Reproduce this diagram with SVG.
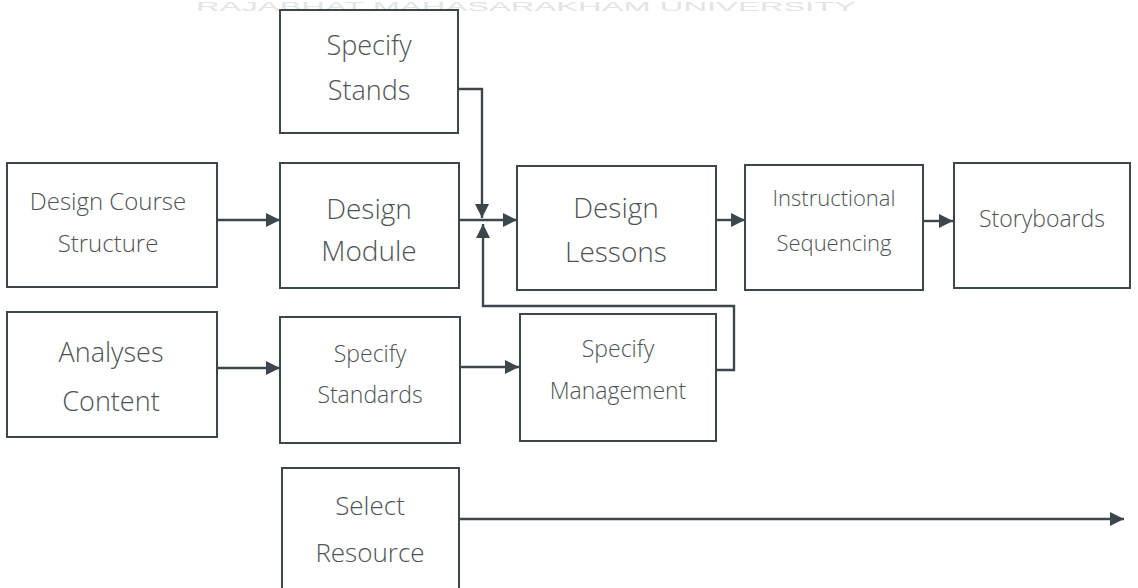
<svg xmlns="http://www.w3.org/2000/svg" width="1138" height="588" viewBox="0 0 1138 588">
<style>
  .box { fill: #ffffff; stroke: #3c474c; stroke-width: 2; }
  .t { font-family: "Open Sans", "Noto Sans", "Liberation Sans", sans-serif; fill: #4e5356; text-anchor: middle; font-weight: 300; }
  .c { fill: none; stroke: #3c474c; stroke-width: 2.4; }
  .wm { font-family: "Liberation Sans", "Open Sans", sans-serif; fill: #e4e4e4; font-size: 13px; }
</style>
<defs>
  <marker id="ah" viewBox="0 0 10 10" refX="10" refY="5" markerWidth="16" markerHeight="14" markerUnits="userSpaceOnUse" orient="auto">
    <path d="M0,0 L10,5 L0,10 z" fill="#3c474c"/>
  </marker>
</defs>
<rect x="0" y="0" width="1138" height="588" fill="#ffffff"/>
<text class="wm" x="196" y="11" textLength="660" lengthAdjust="spacingAndGlyphs">RAJABHAT MAHASARAKHAM UNIVERSITY</text>

<g id="connectors">
  <path class="c" d="M217,220 H280" marker-end="url(#ah)"/>
  <path class="c" d="M458,89 H482 V218" marker-end="url(#ah)"/>
  <path class="c" d="M459,220 H517" marker-end="url(#ah)"/>
  <path class="c" d="M716,370 H734 V306 H483 V224" marker-end="url(#ah)"/>
  <path class="c" d="M716,220 H745" marker-end="url(#ah)"/>
  <path class="c" d="M923,221 H953" marker-end="url(#ah)"/>
  <path class="c" d="M217,368 H280" marker-end="url(#ah)"/>
  <path class="c" d="M460,367 H519" marker-end="url(#ah)"/>
  <path class="c" d="M459,519 H1124" marker-end="url(#ah)"/>
</g>

<g id="specify-stands">
  <rect class="box" x="280" y="10" width="178" height="123"/>
  <text class="t" x="369" y="55" font-size="27">Specify</text>
  <text class="t" x="369" y="100" font-size="27">Stands</text>
</g>
<g id="design-course-structure">
  <rect class="box" x="7" y="163" width="210" height="124"/>
  <text class="t" x="108" y="210" font-size="24">Design Course</text>
  <text class="t" x="108" y="252" font-size="24">Structure</text>
</g>
<g id="design-module">
  <rect class="box" x="280" y="163" width="179" height="125"/>
  <text class="t" x="369" y="219" font-size="28">Design</text>
  <text class="t" x="369" y="261" font-size="28">Module</text>
</g>
<g id="design-lessons">
  <rect class="box" x="517" y="166" width="199" height="124"/>
  <text class="t" x="616" y="218" font-size="28">Design</text>
  <text class="t" x="616" y="262" font-size="28">Lessons</text>
</g>
<g id="instructional-sequencing">
  <rect class="box" x="745" y="165" width="178" height="125"/>
  <text class="t" x="834" y="206" font-size="22">Instructional</text>
  <text class="t" x="834" y="251" font-size="22">Sequencing</text>
</g>
<g id="storyboards">
  <rect class="box" x="954" y="163" width="176" height="125"/>
  <text class="t" x="1042" y="227" font-size="23">Storyboards</text>
</g>
<g id="analyses-content">
  <rect class="box" x="7" y="312" width="210" height="125"/>
  <text class="t" x="111" y="362" font-size="27">Analyses</text>
  <text class="t" x="111" y="411" font-size="27">Content</text>
</g>
<g id="specify-standards">
  <rect class="box" x="280" y="317" width="180" height="126"/>
  <text class="t" x="370" y="362" font-size="23">Specify</text>
  <text class="t" x="370" y="403" font-size="23">Standards</text>
</g>
<g id="specify-management">
  <rect class="box" x="520" y="314" width="196" height="127"/>
  <text class="t" x="618" y="357" font-size="23">Specify</text>
  <text class="t" x="618" y="399" font-size="23">Management</text>
</g>
<g id="select-resource">
  <rect class="box" x="282" y="468" width="177" height="140"/>
  <text class="t" x="370" y="515" font-size="26">Select</text>
  <text class="t" x="370" y="562" font-size="26">Resource</text>
</g>
</svg>
